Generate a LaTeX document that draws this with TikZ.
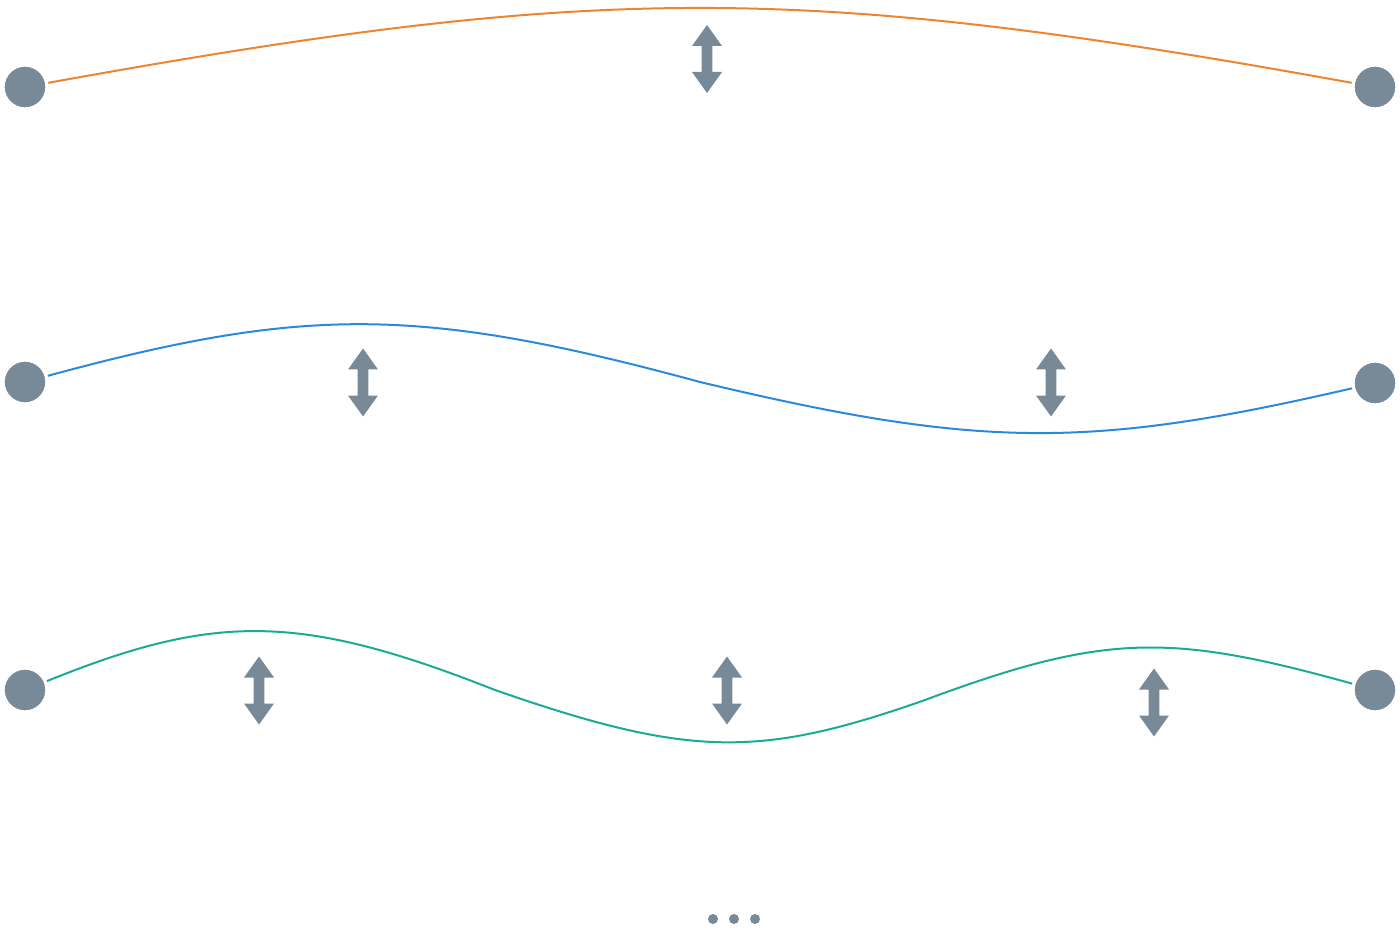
\documentclass[tikz,border=0pt]{standalone}
\usetikzlibrary{positioning}

\definecolor{slate}{RGB}{120,137,152}
\definecolor{wOrange}{RGB}{235,133,51}
\definecolor{wBlue}{RGB}{43,137,220}
\definecolor{wTeal}{RGB}{26,170,152}

\tikzset{
  endpt/.style={circle, fill=slate, draw=white, line width=1pt, minimum size=31.5pt, inner sep=0pt, outer sep=2pt},
  wave/.style={line width=1.5pt},
  updown/.pic={
    \fill[slate] (0,-34) -- (15,-13) -- (5.3,-13) -- (5.3,13) -- (15,13) -- (0,34) -- (-15,13) -- (-5.3,13) -- (-5.3,-13) -- (-15,-13) -- cycle ;
  }
}

\begin{document}
\begin{tikzpicture}[x=0.75pt,y=0.75pt,yscale=-1,xscale=1]
\useasboundingbox (0,0) rectangle (1400,952);

%Shape: Circle [end points]
\node[endpt] (l1) at (25,87) {};
\node[endpt] (r1) at (1375,87) {};
\node[endpt] (l2) at (25,382) {};
\node[endpt] (r2) at (1375,383) {};
\node[endpt] (l3) at (25,690) {};
\node[endpt] (r3) at (1375,690) {};

%Curve Lines [first mode]
\draw [wave, wOrange] (l1) .. controls (601,-17) and (799,-17) .. (r1) ;

%Curve Lines [second mode]
\coordinate (m2) at (700,382);
\draw [wave, wBlue] (l2) .. controls (305,306) and (420,306) .. (m2) .. controls (980,449) and (1090,449) .. (r2) ;

%Curve Lines [third mode]
\coordinate (m3a) at (495,690);
\coordinate (m3b) at (925,700);
\draw [wave, wTeal] (l3) .. controls (215,613) and (300,613) .. (m3a) .. controls (690,758) and (760,758) .. (m3b) .. controls (1105,633) and (1170,633) .. (r3) ;

%Shape: Double Arrows
\pic at (707,59) {updown};
\pic at (363,382.5) {updown};
\pic at (1051,382.5) {updown};
\pic at (259,690.5) {updown};
\pic at (727,690.5) {updown};
\pic at (1154,702.5) {updown};

%Shape: Circle [ellipsis]
\foreach \dx in {713,734,755}
  \fill[slate] (\dx,919) circle (5) ;

\end{tikzpicture}
\end{document}
